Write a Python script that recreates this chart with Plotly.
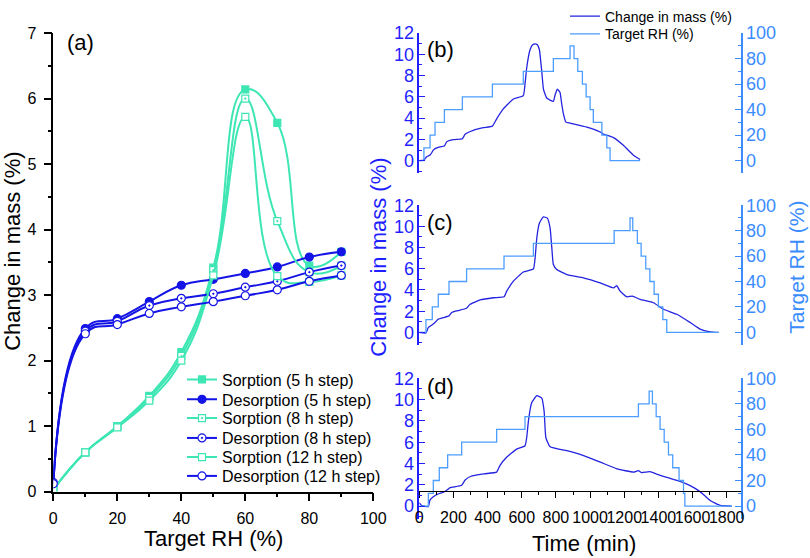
import plotly.graph_objects as go

# ---------------- data: panel (a) ----------------
rh_a = [0, 10, 20, 30, 40, 50, 60, 70, 80, 90]
sorp_5h = [0.03, 0.60, 1.00, 1.46, 2.13, 3.42, 6.14, 5.63, 3.45, 3.66]
sorp_8h = [0.03, 0.60, 0.99, 1.43, 2.07, 3.38, 6.00, 4.13, 3.35, 3.45]
sorp_12h = [0.03, 0.60, 0.98, 1.39, 2.00, 3.30, 5.72, 3.29, 3.20, 3.30]
des_5h = [0.10, 2.49, 2.64, 2.90, 3.15, 3.24, 3.33, 3.43, 3.58, 3.66]
des_8h = [0.14, 2.45, 2.60, 2.84, 2.95, 3.02, 3.12, 3.21, 3.35, 3.45]
des_12h = [0.12, 2.41, 2.55, 2.72, 2.82, 2.90, 2.99, 3.08, 3.21, 3.30]

# ---------------- data: panel (b) 5 h ----------------
t_b = [0, 27, 43, 63, 82, 92, 121, 147, 160, 199, 252, 268, 316, 375, 428, 453, 492, 551, 609,
       619, 629, 649, 664, 678, 691, 703, 711, 717, 727, 746, 785, 795, 808, 824, 834, 844, 858,
       883, 981, 1059, 1078, 1137, 1195, 1254, 1293]
m_b = [0.0, 0.06, 0.37, 0.53, 0.99, 1.14, 1.30, 1.39, 1.77, 1.98, 2.07, 2.48, 2.85, 3.10, 3.25,
       3.94, 4.87, 5.80, 6.12, 7.19, 8.74, 10.45, 10.90, 10.98, 10.90, 10.45, 9.36, 8.43, 6.73,
       5.89, 5.58, 6.17, 6.73, 6.42, 5.33, 4.40, 3.63, 3.53, 3.16, 2.70, 2.50, 2.17, 1.45, 0.52, 0.12]
rh_t_b = [0, 27, 63, 92, 147, 252, 428, 609, 785, 883, 906, 928, 955, 977, 1000, 1019, 1069, 1098, 1117, 1293]
rh_v_b = [0, 10, 20, 30, 40, 50, 60, 70, 80, 90, 80, 70, 60, 50, 40, 30, 20, 10, 0, 0]

# ---------------- data: panel (c) 8 h ----------------
t_c = [0, 39, 53, 76, 92, 111, 141, 174, 190, 219, 277, 297, 356, 434, 496, 512, 551, 609, 668,
       678, 688, 703, 726, 750, 766, 776, 785, 805, 864, 961, 1059, 1137, 1156, 1176, 1215, 1248,
       1293, 1371, 1429, 1508, 1586, 1644, 1703, 1752]
m_c = [0.0, -0.05, 0.47, 0.72, 0.93, 1.25, 1.40, 1.56, 1.87, 2.03, 2.28, 2.65, 3.06, 3.27, 3.36,
       3.89, 4.83, 5.70, 5.98, 7.0, 8.9, 10.3, 10.9, 10.78, 9.84, 7.97, 6.4, 5.93, 5.46, 5.15, 4.67,
       4.20, 4.42, 3.89, 3.36, 3.43, 3.11, 2.80, 2.18, 1.71, 0.93, 0.31, 0.06, 0.0]
rh_t_c = [0, 39, 76, 111, 174, 277, 496, 668, 1141, 1234, 1250, 1277, 1299, 1326, 1350, 1375, 1400, 1426, 1449, 1752]
rh_v_c = [0, 10, 20, 30, 40, 50, 60, 70, 80, 90, 80, 70, 60, 50, 40, 30, 20, 10, 0, 0]

# ---------------- data: panel (d) 12 h ----------------
t_d = [0, 14, 53, 62, 82, 117, 142, 166, 180, 248, 267, 302, 380, 453, 472, 511, 570, 619, 629,
       639, 658, 688, 717, 731, 741, 766, 864, 962, 1060, 1157, 1255, 1283, 1300, 1351, 1390, 1449,
       1527, 1586, 1644, 1703, 1762, 1830]
m_d = [0.3, 0.05, -0.05, 0.56, 0.87, 1.18, 1.30, 1.55, 1.73, 1.95, 2.42, 2.80, 3.03, 3.19, 3.80,
       4.58, 5.35, 5.67, 6.44, 8.0, 9.7, 10.37, 10.15, 8.9, 6.44, 5.57, 5.20, 4.74, 4.13, 3.50, 3.19,
       3.34, 3.15, 3.23, 3.00, 2.70, 2.32, 1.92, 1.36, 0.53, 0.07, 0.0]
rh_t_d = [0, 53, 82, 117, 166, 248, 453, 619, 1283, 1346, 1365, 1387, 1410, 1434, 1459, 1484, 1521, 1547, 1555, 1830]
rh_v_d = [0, 10, 20, 30, 40, 50, 60, 70, 80, 90, 80, 70, 60, 50, 40, 30, 20, 10, 0, 0]

# tick labels
rh_ticks_a = [0, 20, 40, 60, 80, 100]
mass_ticks_a = [0, 1, 2, 3, 4, 5, 6, 7]
mass_ticks_t = [0, 2, 4, 6, 8, 10, 12]
rh_ticks_t = [0, 20, 40, 60, 80, 100]
time_ticks = [0, 200, 400, 600, 800, 1000, 1200, 1400, 1600, 1800]

# ---------------- style ----------------
W, H = 810, 558
FONT = "Liberation Sans, Arial, sans-serif"
GREEN = "#3ee6b4"
DBLUE = "#1414e6"
MASS = "#2323e0"
RHC = "#4b9dff"
LAX = "#1f1fff"
RAX = "#3a8cff"


def px(x):
    return x / W


def py(y):
    return 1 - y / H


fig = go.Figure()

# legend rows (centre y in pixels) for panel (a) and the time panels
leg_rows_a = [377.7, 397.7, 416.7, 436.7, 456.0, 475.0]
leg_rows_t = [11.0, 29.0]

sorp_series = [("Sorption (5 h step)", sorp_5h, dict(symbol="square", color=GREEN)),
               ("Sorption (8 h step)", sorp_8h, dict(symbol="square-dot", color="white")),
               ("Sorption (12 h step)", sorp_12h, dict(symbol="square", color="white"))]
des_series = [("Desorption (5 h step)", des_5h, dict(symbol="circle", color=DBLUE)),
              ("Desorption (8 h step)", des_8h, dict(symbol="circle-dot", color="white")),
              ("Desorption (12 h step)", des_12h, dict(symbol="circle", color="white"))]

li = 0
for (sn, sy, sm), (dn, dy, dm) in zip(sorp_series, des_series):
    fig.add_trace(go.Scatter(x=rh_a, y=sy, name=sn, mode="lines+markers",
                             line=dict(color=GREEN, width=2, shape="spline", smoothing=1.3),
                             marker=dict(size=7, symbol=sm["symbol"], color=sm["color"],
                                         line=dict(color=GREEN, width=1.2)),
                             xaxis="x", yaxis="y", legend="legend%d" % (li + 3)))
    li += 1
    fig.add_trace(go.Scatter(x=rh_a, y=dy, name=dn, mode="lines+markers",
                             line=dict(color=DBLUE, width=2, shape="spline", smoothing=1.3),
                             marker=dict(size=8, symbol=dm["symbol"], color=dm["color"],
                                         line=dict(color=DBLUE, width=1.2)),
                             xaxis="x", yaxis="y", legend="legend%d" % (li + 3)))
    li += 1

panels = [(t_b, m_b, rh_t_b, rh_v_b, "x2", "y2", "y3"),
          (t_c, m_c, rh_t_c, rh_v_c, "x3", "y4", "y5"),
          (t_d, m_d, rh_t_d, rh_v_d, "x4", "y6", "y7")]
for i, (tt, mm, rt, rv, xa, ya, yb) in enumerate(panels):
    fig.add_trace(go.Scatter(x=tt, y=mm, mode="lines", name="Change in mass (%)",
                             line=dict(color=MASS, width=1.3, shape="spline", smoothing=0.4),
                             xaxis=xa, yaxis=ya, legend="legend", showlegend=(i == 0)))
    fig.add_trace(go.Scatter(x=rt, y=rv, mode="lines", name="Target RH (%)",
                             line=dict(color=RHC, width=1.3, shape="hv"),
                             xaxis=xa, yaxis=yb, legend="legend2", showlegend=(i == 0)))

# ---------------- axes ----------------
xdom_r = [px(419.3), px(740.7)]
ydoms = [[py(170), py(28.3)], [py(343.2), py(202)], [py(518.5), py(376.7)]]

layout = dict(
    template="none",
    width=W, height=H, margin=dict(l=0, r=0, t=0, b=0, pad=0),
    paper_bgcolor="white", plot_bgcolor="white",
    font=dict(family=FONT, size=15, color="black"),
    xaxis=dict(domain=[px(53.3), px(373.3)], range=[0, 100], tickvals=rh_ticks_a,
               ticks="outside", ticklen=8, tickwidth=1.5, showline=True, linecolor="black",
               linewidth=1.5, showgrid=False, zeroline=False, anchor="y", automargin=False,
               minor=dict(dtick=10, ticks="outside", ticklen=4, tickwidth=1.5, tickcolor="black",
                          showgrid=False),
               tickfont=dict(size=16), ticklabelstandoff=3, tickcolor="black", tickangle=0),
    yaxis=dict(domain=[py(491), py(28.3)], range=[0, 7], tickvals=mass_ticks_a,
               ticks="outside", ticklen=8, tickwidth=1.5, showline=True, linecolor="black",
               linewidth=1.5, showgrid=False, zeroline=False, anchor="x", automargin=False,
               minor=dict(dtick=0.5, ticks="outside", ticklen=4, tickwidth=1.5, tickcolor="black",
                          showgrid=False),
               tickfont=dict(size=16), tickcolor="black", ticklabelstandoff=4),
)

for k, (xa, ya, yb) in enumerate([("xaxis2", "yaxis2", "yaxis3"),
                                  ("xaxis3", "yaxis4", "yaxis5"),
                                  ("xaxis4", "yaxis6", "yaxis7")]):
    yname = ya.replace("axis", "")
    xname = xa.replace("axis", "")
    if k < 2:
        layout[xa] = dict(domain=xdom_r, range=[0, 1882], visible=False, anchor=yname,
                          automargin=False, showgrid=False, zeroline=False)
    else:
        layout[xa] = dict(domain=xdom_r, range=[0, 1882], anchor="free", position=py(490),
                          tickvals=time_ticks, ticks="outside", ticklen=6, tickwidth=1.2,
                          showline=True, linecolor="black", linewidth=1.2, showgrid=False,
                          zeroline=False, tickcolor="black", automargin=False, tickangle=0,
                          minor=dict(dtick=100, ticks="outside", ticklen=3, tickwidth=1.2,
                                     tickcolor="black", showgrid=False),
                          tickfont=dict(size=16), ticklabelstandoff=6)
    layout[ya] = dict(domain=ydoms[k], range=[-1.2, 12], tickvals=mass_ticks_t, anchor=xname,
                      ticks="inside", ticklen=6, tickwidth=1.2, tickcolor=LAX,
                      showline=True, linecolor=LAX, linewidth=1.5, showgrid=False,
                      zeroline=False, automargin=False,
                      minor=dict(dtick=1, ticks="inside", ticklen=3, tickwidth=1.2, tickcolor=LAX,
                                 showgrid=False),
                      tickfont=dict(size=18, color=LAX))
    layout[yb] = dict(range=[-10, 100], tickvals=rh_ticks_t, anchor=xname,
                      overlaying=yname, side="right",
                      ticks="inside", ticklen=6, tickwidth=1.2, tickcolor=RAX,
                      showline=True, linecolor=RAX, linewidth=1.5, showgrid=False,
                      zeroline=False, automargin=False,
                      minor=dict(dtick=10, ticks="inside", ticklen=3, tickwidth=1.2, tickcolor=RAX,
                                 showgrid=False),
                      tickfont=dict(size=18, color=RAX))

# one legend per entry so that row spacing follows the reference
for j, yc in enumerate(leg_rows_t):
    key = "legend" if j == 0 else "legend2"
    layout[key] = dict(x=px(565), y=py(yc - 15.6), xanchor="left", yanchor="top",
                       bgcolor="rgba(0,0,0,0)", font=dict(size=14), itemwidth=30)
for j, yc in enumerate(leg_rows_a):
    layout["legend%d" % (j + 3)] = dict(x=px(182), y=py(yc - 16.9), xanchor="left", yanchor="top",
                                        bgcolor="rgba(0,0,0,0)", font=dict(size=16), itemwidth=30)

ann = []


def text(x, y, s, size=22, color="black", angle=0):
    ann.append(dict(x=px(x), y=py(y), xref="paper", yref="paper", text=s, showarrow=False,
                    xanchor="center", yanchor="middle", textangle=angle,
                    font=dict(size=size, color=color, family=FONT)))


text(80, 38, "(a)")
text(441, 45, "(b)")
text(440, 219, "(c)")
text(440, 385, "(d)")
text(13, 249, "Change in mass (%)", angle=-90)
text(213.5, 538, "Target RH (%)")
text(379, 255, "Change in mass (%)", color=LAX, angle=-90)
text(797, 265, "Target RH (%)", size=21, color=RAX, angle=-90)
text(584, 543, "Time (min)")
layout["annotations"] = ann

fig.update_layout(**layout)
fig.write_html("out.html", config={"displayModeBar": False},
               post_script="document.body.style.margin='0px';document.body.style.overflow='hidden';")
